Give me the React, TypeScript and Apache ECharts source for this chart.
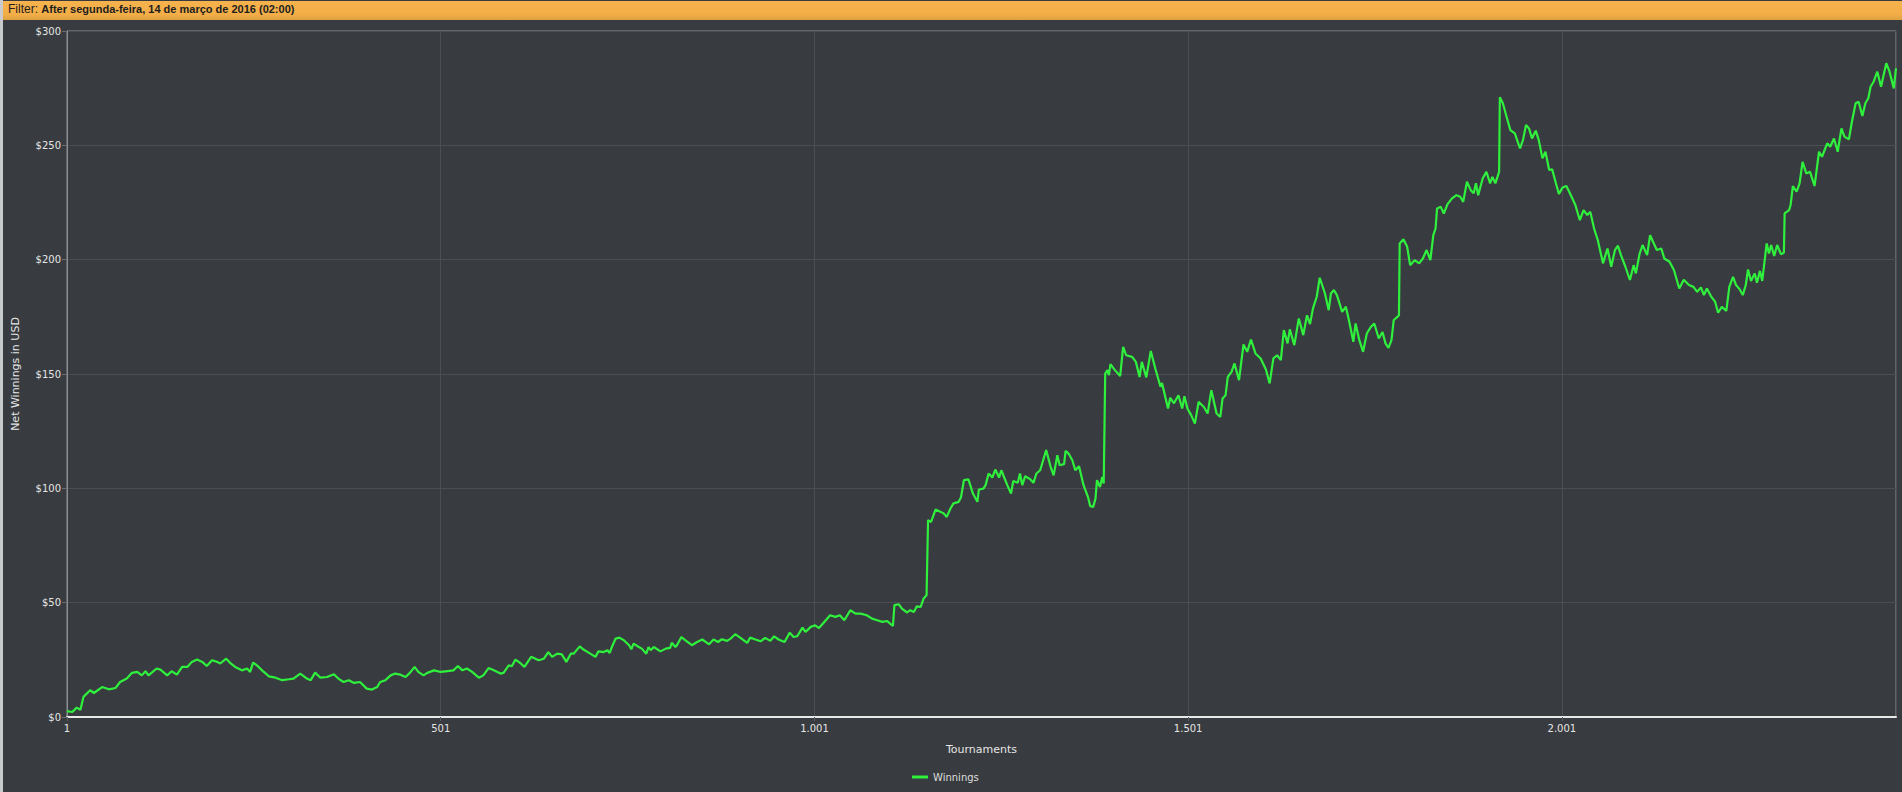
import React, { useEffect, useRef } from "react";
import * as echarts from "echarts";

const headerLabel = "Filter:";
const headerValue = "After segunda-feira, 14 de março de 2016 (02:00)";
const xAxisTitle = "Tournaments";
const yAxisTitle = "Net Winnings in USD";
const seriesName = "Winnings";

const tournaments = [
  1, 8, 14, 19, 23, 32, 37, 48, 57, 66, 72, 81, 88, 95, 101, 106, 110, 121, 126, 135,
  141, 148, 155, 162, 168, 175, 182, 188, 195, 202, 206, 214, 220, 226, 235, 242, 246, 250, 255, 262,
  271, 280, 289, 298, 304, 313, 322, 327, 333, 340, 349, 358, 364, 371, 378, 385, 393, 402, 409, 416,
  420, 427, 434, 440, 447, 454, 460, 466, 471, 478, 483, 492, 501, 510, 518, 524, 530, 536, 543, 552,
  558, 565, 572, 581, 585, 592, 596, 601, 608, 613, 622, 632, 639, 645, 650, 657, 663, 669, 675, 679,
  687, 692, 701, 708, 712, 719, 724, 727, 730, 735, 740, 746, 753, 756, 759, 766, 770, 776, 779, 782,
  786, 795, 802, 808, 810, 815, 817, 823, 828, 837, 844, 851, 860, 866, 872, 877, 884, 889, 895, 902,
  911, 915, 922, 929, 935, 942, 947, 953, 961, 968, 973, 978, 985, 989, 996, 1002, 1007, 1013, 1022, 1029,
  1035, 1041, 1049, 1056, 1063, 1071, 1078, 1085, 1092, 1098, 1106, 1108, 1114, 1118, 1125, 1129, 1134, 1138, 1143, 1147,
  1151, 1153, 1157, 1163, 1170, 1174, 1178, 1183, 1187, 1194, 1197, 1201, 1207, 1213, 1219, 1221, 1227, 1230, 1234, 1239,
  1243, 1248, 1251, 1259, 1264, 1267, 1273, 1276, 1279, 1283, 1290, 1294, 1298, 1303, 1307, 1311, 1317, 1321, 1326, 1329,
  1335, 1337, 1341, 1346, 1350, 1355, 1361, 1367, 1370, 1374, 1377, 1379, 1383, 1386, 1388, 1390, 1393, 1395, 1397, 1403,
  1410, 1414, 1418, 1426, 1431, 1436, 1439, 1445, 1451, 1457, 1464, 1466, 1474, 1477, 1482, 1488, 1493, 1496, 1500, 1505,
  1510, 1515, 1522, 1527, 1532, 1539, 1544, 1547, 1551, 1554, 1559, 1563, 1569, 1575, 1580, 1585, 1591, 1598, 1605, 1610,
  1615, 1620, 1625, 1629, 1634, 1637, 1643, 1649, 1655, 1660, 1664, 1668, 1673, 1677, 1684, 1689, 1692, 1696, 1700, 1707,
  1712, 1716, 1722, 1725, 1730, 1735, 1740, 1745, 1750, 1756, 1761, 1765, 1769, 1773, 1776, 1781, 1783, 1784, 1789, 1794,
  1798, 1804, 1810, 1815, 1820, 1825, 1829, 1832, 1834, 1839, 1843, 1848, 1854, 1860, 1865, 1869, 1874, 1879, 1883, 1886,
  1889, 1895, 1900, 1905, 1908, 1912, 1917, 1918, 1922, 1927, 1932, 1938, 1945, 1949, 1953, 1957, 1961, 1966, 1970, 1975,
  1979, 1984, 1988, 1993, 1997, 2002, 2007, 2013, 2019, 2025, 2030, 2035, 2039, 2044, 2049, 2056, 2062, 2067, 2072, 2076,
  2080, 2086, 2092, 2097, 2100, 2105, 2109, 2115, 2119, 2124, 2128, 2134, 2138, 2145, 2151, 2158, 2164, 2171, 2177, 2182,
  2187, 2191, 2195, 2201, 2206, 2210, 2215, 2221, 2225, 2230, 2234, 2239, 2243, 2247, 2250, 2254, 2259, 2262, 2266, 2269,
  2275, 2278, 2281, 2285, 2289, 2294, 2298, 2299, 2305, 2307, 2310, 2315, 2319, 2323, 2328, 2333, 2339, 2345, 2349, 2356,
  2360, 2365, 2370, 2375, 2379, 2385, 2389, 2394, 2398, 2403, 2407, 2411, 2414, 2418, 2423, 2428, 2432, 2435, 2439, 2445,
  2448,
];

const winnings = [
  2.6, 2.2, 4.1, 3.2, 8.8, 11.7, 10.5, 13.1, 12.1, 12.7, 15.3, 16.8, 19.3, 19.7, 18.2, 20.0, 18.2, 21.2, 20.7, 18.2,
  20.0, 18.5, 21.9, 21.9, 24.1, 25.1, 24.1, 22.3, 24.8, 24.1, 23.4, 25.5, 23.4, 21.9, 20.4, 21.2, 19.7, 23.8, 22.6, 20.4,
  17.8, 17.2, 16.1, 16.5, 16.8, 19.0, 16.8, 16.1, 19.4, 17.2, 17.5, 18.7, 16.8, 15.3, 16.1, 14.9, 15.3, 12.4, 12.0, 13.1,
  15.3, 16.1, 18.2, 19.0, 18.5, 17.5, 19.4, 21.9, 19.7, 18.2, 19.3, 20.4, 19.7, 20.1, 20.4, 22.3, 20.4, 21.2, 19.7, 17.2,
  18.2, 21.4, 20.4, 19.0, 19.3, 22.6, 22.2, 25.1, 23.4, 21.9, 26.3, 24.8, 25.5, 28.4, 26.3, 27.7, 27.4, 24.1, 27.7, 27.7,
  30.9, 29.5, 27.7, 26.3, 28.7, 28.4, 29.2, 28.0, 30.6, 34.3, 34.7, 33.6, 31.4, 29.6, 32.1, 30.6, 29.9, 27.7, 30.6, 29.2,
  30.6, 28.7, 29.9, 30.2, 32.5, 30.6, 31.4, 35.0, 33.6, 31.4, 32.8, 33.9, 31.8, 33.9, 32.8, 34.0, 33.3, 34.3, 36.2, 34.6,
  32.4, 34.7, 33.9, 33.1, 34.6, 33.3, 35.3, 33.9, 32.8, 36.9, 35.0, 35.3, 39.1, 37.2, 39.4, 40.1, 38.9, 41.1, 44.5, 43.8,
  44.5, 42.3, 46.7, 45.2, 45.2, 44.5, 43.0, 42.3, 41.6, 42.0, 39.8, 48.9, 49.3, 47.4, 45.7, 46.7, 45.9, 48.4, 48.1, 51.8,
  53.2, 86.1, 85.3, 90.7, 89.7, 89.0, 87.5, 91.2, 93.4, 94.1, 96.0, 103.6, 103.9, 97.7, 94.1, 99.5, 99.9, 101.4, 106.5, 104.7,
  108.2, 104.7, 107.9, 101.4, 97.7, 103.2, 102.4, 106.5, 101.4, 105.3, 103.9, 102.4, 106.5, 107.9, 112.3, 116.7, 109.4, 105.7, 114.5, 110.1,
  110.6, 116.4, 115.2, 112.3, 107.9, 109.7, 101.4, 96.2, 92.2, 91.9, 95.5, 103.6, 100.6, 105.0, 102.1, 150.2, 151.7, 149.5, 154.3, 151.7,
  149.1, 161.9, 158.2, 157.5, 155.3, 148.7, 155.3, 148.5, 160.1, 152.4, 144.4, 146.1, 134.9, 139.6, 137.2, 140.7, 134.9, 140.3, 134.9, 132.0,
  128.3, 137.8, 135.6, 132.7, 142.9, 132.7, 131.2, 139.3, 140.7, 148.7, 150.9, 154.6, 147.3, 162.9, 159.7, 165.1, 159.0, 156.8, 152.0, 145.9,
  156.8, 158.2, 156.1, 169.2, 163.4, 169.5, 162.6, 174.3, 167.0, 175.7, 171.8, 178.7, 183.8, 192.1, 185.2, 177.9, 185.2, 186.7, 184.5, 177.2,
  179.4, 173.6, 164.1, 172.1, 164.8, 159.7, 167.7, 170.4, 172.1, 165.5, 168.4, 163.4, 161.4, 164.8, 173.6, 175.0, 175.7, 207.1, 208.9, 205.6,
  197.6, 199.8, 198.4, 200.5, 204.2, 199.8, 210.7, 213.7, 222.4, 223.1, 220.2, 224.3, 226.8, 228.2, 227.5, 225.3, 234.1, 230.4, 229.0, 233.4,
  228.2, 235.5, 238.4, 233.4, 236.2, 233.4, 238.4, 271.0, 268.4, 262.5, 256.7, 255.2, 248.7, 252.4, 258.9, 257.4, 253.0, 256.4, 252.4, 244.3,
  247.2, 239.2, 239.5, 233.4, 228.7, 231.6, 232.2, 228.2, 223.9, 217.3, 221.7, 219.5, 220.9, 213.7, 208.6, 198.4, 204.9, 196.9, 204.2, 206.1,
  202.0, 196.9, 191.1, 197.6, 194.0, 202.7, 206.4, 202.0, 210.7, 207.1, 204.2, 204.9, 200.5, 199.1, 195.4, 187.4, 191.2, 188.9, 188.1, 185.9,
  187.9, 184.5, 187.4, 183.7, 181.6, 176.8, 179.4, 177.6, 188.1, 192.5, 188.9, 187.0, 184.5, 188.9, 195.7, 190.7, 194.0, 189.9, 195.1, 190.7,
  207.1, 202.7, 206.4, 201.6, 206.4, 202.4, 203.0, 220.2, 221.7, 223.9, 232.2, 229.7, 233.4, 242.8, 237.7, 238.4, 232.2, 247.2, 245.0, 250.9,
  249.4, 253.0, 247.2, 257.4, 253.8, 252.6, 260.3, 268.4, 269.1, 262.8, 268.4, 270.6, 275.6, 277.8, 282.2, 275.6, 281.5, 285.9, 282.6, 274.9,
  283.7,
];

const xMin = 1;
const xMax = 2448;
const xStep = 500;
const yMin = 0;
const yMax = 300;
const yStep = 50;

const FONT = "DejaVu Sans";
const HEADER_FONT = "Liberation Sans";

function formatThousands(v: number): string {
  return String(Math.round(v)).replace(/\B(?=(\d{3})+(?!\d))/g, ".");
}

export default function App() {
  const ref = useRef<HTMLDivElement>(null);

  useEffect(() => {
    if (!ref.current) return;
    const chart = echarts.init(ref.current, undefined, { renderer: "svg" });
    const data = tournaments.map((t, i) => [t, winnings[i]]);

    chart.setOption({
      animation: false,
      backgroundColor: "#383b3f",
      textStyle: { fontFamily: FONT },
      graphic: [
        {
          type: "rect",
          left: 0,
          top: 0,
          shape: { width: 3, height: 792 },
          style: { fill: "#c9cacb" },
          silent: true,
        },
        {
          type: "rect",
          left: 3,
          top: 1,
          shape: { width: 1899, height: 19 },
          style: {
            fill: new echarts.graphic.LinearGradient(0, 0, 0, 1, [
              { offset: 0, color: "#f6b24c" },
              { offset: 0.7, color: "#f3ae48" },
              { offset: 1, color: "#dea040" },
            ]),
          },
          silent: true,
        },
        {
          type: "text",
          left: 8,
          top: 3,
          style: {
            text: "{a|" + headerLabel + "} {b|" + headerValue + "}",
            rich: {
              a: { fontFamily: HEADER_FONT, fontSize: 12, fill: "#1e1e1e", fontWeight: "normal" },
              b: { fontFamily: HEADER_FONT, fontSize: 11, fill: "#1e1e1e", fontWeight: "bold" },
            },
          },
          silent: true,
        },
      ],
      grid: {
        left: 67,
        top: 31,
        right: 6,
        bottom: 75,
        show: true,
        borderColor: "#8d9093",
        borderWidth: 1,
        backgroundColor: "transparent",
      },
      legend: {
        left: 907,
        top: 767,
        icon: "rect",
        itemWidth: 16,
        itemHeight: 3,
        itemGap: 10,
        textStyle: { color: "#dedede", fontSize: 10, fontFamily: FONT },
        data: [seriesName],
      },
      xAxis: {
        type: "value",
        min: xMin,
        max: xMax,
        interval: xStep,
        name: xAxisTitle,
        nameLocation: "middle",
        nameGap: 27,
        nameTextStyle: { color: "#e6e6e6", fontSize: 11, fontFamily: FONT },
        axisLine: { show: true, onZero: false, lineStyle: { color: "#e8e8e8", width: 2 } },
        axisTick: { show: true, length: 4, lineStyle: { color: "#5a5d61" } },
        axisLabel: {
          color: "#e6e6e6",
          fontSize: 10,
          fontFamily: FONT,
          margin: 6,
          showMaxLabel: false,
          formatter: (v: number) => formatThousands(v),
        },
        splitLine: { show: true, lineStyle: { color: "#4b4e52", width: 1 } },
      },
      yAxis: {
        type: "value",
        min: yMin,
        max: yMax,
        interval: yStep,
        name: yAxisTitle,
        nameLocation: "middle",
        nameGap: 46,
        nameTextStyle: { color: "#e6e6e6", fontSize: 11, fontFamily: FONT },
        axisLine: { show: true, lineStyle: { color: "#8d9093", width: 1 } },
        axisTick: { show: true, length: 5, lineStyle: { color: "#6a6d70" } },
        axisLabel: {
          color: "#e6e6e6",
          fontSize: 10,
          fontFamily: FONT,
          margin: 6,
          formatter: (v: number) => "$" + v,
        },
        splitLine: { show: true, lineStyle: { color: "#4b4e52", width: 1 } },
      },
      series: [
        {
          name: seriesName,
          type: "line",
          data,
          showSymbol: false,
          symbol: "none",
          lineStyle: { color: "#2ff03d", width: 2.2 },
          itemStyle: { color: "#2ff03d" },
          z: 3,
        },
      ],
    });

    return () => chart.dispose();
  }, []);

  return (
    <div
      ref={ref}
      style={{ position: "absolute", left: 0, top: 0, width: 1902, height: 792 }}
    />
  );
}
